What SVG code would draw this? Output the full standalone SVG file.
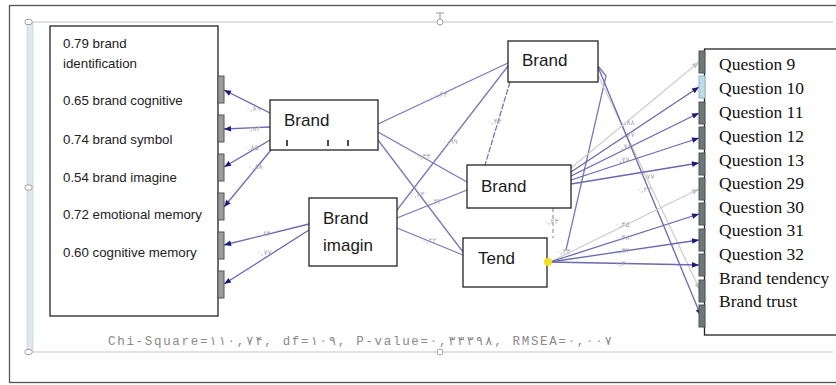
<svg xmlns="http://www.w3.org/2000/svg" width="836" height="385" viewBox="0 0 836 385">
<defs>
<style>
.box{fill:#fff;stroke:#222;stroke-width:1.3}
.lt{font-family:"Liberation Sans",Arial,sans-serif;font-size:13.3px;fill:#222}
.nt{font-family:"Liberation Sans",Arial,sans-serif;font-size:17px;fill:#1a1a1a}
.rt{font-family:"Liberation Serif","Times New Roman",serif;font-size:17.5px;fill:#111}
.ln{stroke:#7a78b8;stroke-width:1.3;fill:none}
.ar{stroke:#6a68b0;stroke-width:1.3;fill:none;marker-end:url(#ah)}
.ag{stroke:#cfcfcf;stroke-width:1.3;fill:none;marker-end:url(#ahg)}
.lb{font-family:"DejaVu Sans",sans-serif;font-size:7.5px;fill:#a9a9b2;letter-spacing:1px}
.eb{fill:#9b9b9b;stroke:#555;stroke-width:1}
.rb{fill:#6f7878;stroke:#4c5454;stroke-width:1}
.hd{fill:#fff;stroke:#a0a0a0;stroke-width:1}
</style>
<marker id="ah" viewBox="0 0 10 10" refX="10" refY="5" markerUnits="userSpaceOnUse" markerWidth="9" markerHeight="7" orient="auto"><path d="M0,1 L10,5 L0,9 z" fill="#1c1c78"/></marker>
<marker id="ahg" viewBox="0 0 10 10" refX="10" refY="5" markerUnits="userSpaceOnUse" markerWidth="9" markerHeight="7" orient="auto"><path d="M0,1 L10,5 L0,9 z" fill="#c4c4c4"/></marker>
</defs>
<rect width="836" height="385" fill="#fff"/>
<g id="frame">
<rect x="9.5" y="5.5" width="835" height="377" fill="none" stroke="#555" stroke-width="1.3"/>
<line x1="28" y1="22" x2="833" y2="22" stroke="#c8c8c8" stroke-width="1.2"/>
<line x1="28" y1="352" x2="833" y2="352" stroke="#c8c8c8" stroke-width="1.2"/>
<rect x="27" y="22" width="6" height="330" fill="#dfe7ef" stroke="#c8d2dc" stroke-width="0.8"/>
<rect x="25" y="19.5" width="7" height="5" rx="2" class="hd"/>
<rect x="25" y="185" width="7" height="5" rx="2" class="hd"/>
<rect x="25" y="349.5" width="7" height="5" rx="2" class="hd"/>
<path d="M436,13 H444 M440,13 V19" stroke="#999" stroke-width="1" fill="none"/>
<circle cx="440" cy="22" r="3" class="hd"/>
<circle cx="440" cy="352" r="3" class="hd"/>
</g>
<g id="connectors">
<line class="ar" x1="270" y1="113" x2="224" y2="90"/>
<line class="ar" x1="270" y1="127" x2="224" y2="129"/>
<line class="ar" x1="270" y1="140" x2="224" y2="167"/>
<line class="ar" x1="271" y1="150" x2="224" y2="207"/>
<line class="ar" x1="309" y1="224" x2="224" y2="245"/>
<line class="ar" x1="309" y1="230" x2="224" y2="284"/>
<line class="ln" x1="378" y1="124" x2="508" y2="63"/>
<line class="ln" x1="378" y1="132" x2="467" y2="182"/>
<line class="ln" x1="378" y1="140" x2="463" y2="252"/>
<line class="ln" x1="397" y1="210" x2="508" y2="66"/>
<line class="ln" x1="397" y1="218" x2="467" y2="190"/>
<line class="ln" x1="397" y1="228" x2="463" y2="255"/>
<line class="ln" x1="510" y1="82" x2="485" y2="165" stroke-dasharray="6 1.5"/>
<line x1="553" y1="208" x2="553" y2="238" stroke="#c0c0c8" stroke-width="2" stroke-dasharray="4 3"/>
<polyline class="ln" points="598,66 606,76 566,250"/>
<line class="ag" x1="598" y1="75" x2="700" y2="290"/>
<line class="ar" x1="598" y1="67" x2="701" y2="316"/>
<line class="ag" x1="571" y1="168" x2="699" y2="62"/>
<line class="ar" x1="571" y1="172" x2="699" y2="87"/>
<line class="ar" x1="571" y1="176" x2="699" y2="113"/>
<line class="ar" x1="571" y1="180" x2="699" y2="138"/>
<line class="ar" x1="571" y1="184" x2="699" y2="163"/>
<line class="ag" x1="550" y1="262" x2="699" y2="189"/>
<line class="ar" x1="550" y1="262" x2="699" y2="214"/>
<line class="ar" x1="550" y1="262" x2="699" y2="240"/>
<line class="ar" x1="550" y1="262" x2="699" y2="265"/>
<text class="lb" x="246" y="111">۰,۸۹</text>
<text class="lb" x="246" y="131">۰,۸۴</text>
<text class="lb" x="244" y="150">۰,۸۵</text>
<text class="lb" x="248" y="169">۰,۸۸</text>
<text class="lb" x="256" y="236">۰,۸۴</text>
<text class="lb" x="257" y="255">۰,۷۷</text>
<text class="lb" x="433" y="97">۰,۴۳</text>
<text class="lb" x="443" y="144">۰,۹۹</text>
<text class="lb" x="416" y="159">۰,۳۳</text>
<text class="lb" x="410" y="197">۰,۴۳</text>
<text class="lb" x="427" y="204">۰,۳۳</text>
<text class="lb" x="422" y="243">۰,۲۲</text>
<text class="lb" x="487" y="124">۰,۴۳</text>
<text class="lb" x="544" y="224">۰,۲۳</text>
<text class="lb" x="556" y="254">۰,۳۳</text>
<text class="lb" x="620" y="125">۰,۸۸</text>
<text class="lb" x="620" y="137">۰,۷۷</text>
<text class="lb" x="617" y="149">۰,۷۸</text>
<text class="lb" x="615" y="162">۰,۷۷</text>
<text class="lb" x="640" y="179">۰,۷۷</text>
<text class="lb" x="637" y="192">۰,۲۲</text>
<text class="lb" x="615" y="227">۰,۴۵</text>
<text class="lb" x="615" y="240">۰,۴۸</text>
<text class="lb" x="615" y="253">۰,۳۲</text>
<text class="lb" x="615" y="266">۰,۴۰</text>
</g>
<g id="indicators">
<rect x="50" y="26" width="168" height="290" class="box"/>
<text class="lt" x="63" y="48">0.79 brand</text>
<text class="lt" x="63" y="68">identification</text>
<text class="lt" x="63" y="105">0.65 brand cognitive</text>
<text class="lt" x="63" y="144">0.74 brand symbol</text>
<text class="lt" x="63" y="182">0.54 brand imagine</text>
<text class="lt" x="63" y="219">0.72 emotional memory</text>
<text class="lt" x="63" y="257">0.60 cognitive memory</text>
<rect x="218" y="76" width="6" height="27" class="eb"/>
<rect x="218" y="115" width="6" height="27" class="eb"/>
<rect x="218" y="154" width="6" height="27" class="eb"/>
<rect x="218" y="193" width="6" height="27" class="eb"/>
<rect x="218" y="232" width="6" height="27" class="eb"/>
<rect x="218" y="271" width="6" height="27" class="eb"/>
</g>
<g id="node-brand">
<rect x="270" y="100" width="108" height="50" class="box"/>
<text class="nt" x="284" y="126">Brand</text>
<path d="M287,140 V146 M328,140 V146 M348,140 V146" stroke="#111" stroke-width="1.5"/>
</g>
<g id="node-brand-imagin">
<rect x="309" y="198" width="88" height="68" class="box"/>
<text class="nt" x="323" y="224">Brand</text>
<text class="nt" x="323" y="251">imagin</text>
</g>
<g id="node-brand-top">
<rect x="508" y="41" width="90" height="41" class="box"/>
<text class="nt" x="522" y="66">Brand</text>
</g>
<g id="node-brand-middle">
<rect x="467" y="165" width="104" height="43" class="box"/>
<text class="nt" x="481" y="192">Brand</text>
</g>
<g id="node-tend">
<rect x="463" y="238" width="84" height="49" class="box"/>
<text class="nt" x="478" y="264">Tend</text>
<circle cx="548" cy="262" r="4" fill="#f2e21c"/>
</g>
<g id="node-questions">
<rect x="704.5" y="49" width="140" height="286" class="box"/>
<rect x="699" y="51" width="6" height="22" class="rb"/>
<rect x="699" y="76" width="6" height="22" fill="#bcdce8" stroke="#8fb4c4" stroke-width="1"/>
<rect x="699" y="102" width="6" height="22" class="rb"/>
<rect x="699" y="127" width="6" height="22" class="rb"/>
<rect x="699" y="153" width="6" height="22" class="rb"/>
<rect x="699" y="178" width="6" height="22" class="rb"/>
<rect x="699" y="203" width="6" height="22" class="rb"/>
<rect x="699" y="229" width="6" height="22" class="rb"/>
<rect x="699" y="254" width="6" height="22" class="rb"/>
<rect x="699" y="280" width="6" height="22" class="rb"/>
<rect x="699" y="305" width="6" height="22" class="rb"/>
<text class="rt" x="719" y="70">Question 9</text>
<text class="rt" x="719" y="94">Question 10</text>
<text class="rt" x="719" y="118">Question 11</text>
<text class="rt" x="719" y="142">Question 12</text>
<text class="rt" x="719" y="166">Question 13</text>
<text class="rt" x="719" y="189">Question 29</text>
<text class="rt" x="719" y="213">Question 30</text>
<text class="rt" x="719" y="236">Question 31</text>
<text class="rt" x="719" y="260">Question 32</text>
<text class="rt" x="719" y="284">Brand tendency</text>
<text class="rt" x="719" y="307">Brand trust</text>
</g>
<text x="108" y="345" font-family="'Liberation Mono','Courier New',monospace" font-size="12.5" fill="#8a8a8a" textLength="504" lengthAdjust="spacing">Chi-Square=۱۱۰,۷۴, df=۱۰۹, P-value=۰,۳۳۳۹۸, RMSEA=۰,۰۰۷</text>
</svg>
